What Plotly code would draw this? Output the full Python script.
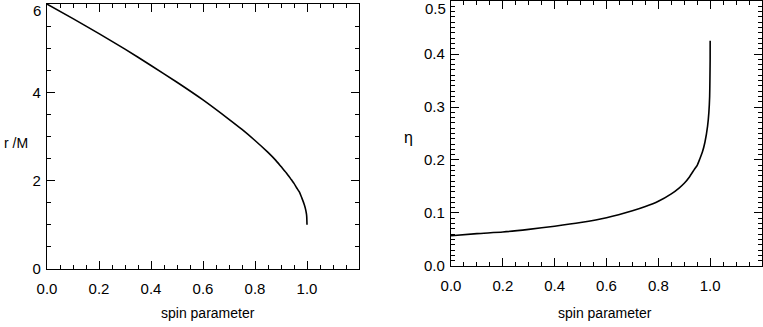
import plotly.graph_objects as go

# ISCO radius vs spin
spin_r = [0.0, 0.1, 0.2, 0.3, 0.4, 0.5, 0.6, 0.7, 0.75, 0.8, 0.85, 0.88, 0.9, 0.92, 0.94, 0.95, 0.96, 0.97, 0.98, 0.99, 0.995, 0.998, 0.999, 1.0]
r_isco = [6.0, 5.67, 5.33, 4.98, 4.61, 4.23, 3.83, 3.39, 3.16, 2.91, 2.64, 2.46, 2.32, 2.18, 2.02, 1.94, 1.84, 1.75, 1.61, 1.45, 1.34, 1.24, 1.18, 1.0]

# efficiency vs spin
spin_eta = [0.0, 0.1, 0.2, 0.3, 0.4, 0.5, 0.6, 0.7, 0.75, 0.8, 0.85, 0.88, 0.9, 0.92, 0.94, 0.95, 0.96, 0.97, 0.98, 0.99, 0.995, 0.998, 0.999, 0.9999, 1.0]
eta = [0.057, 0.061, 0.064, 0.069, 0.075, 0.082, 0.091, 0.104, 0.112, 0.122, 0.136, 0.147, 0.156, 0.168, 0.183, 0.19, 0.202, 0.215, 0.234, 0.264, 0.29, 0.32, 0.35, 0.39, 0.425]

x_ticks = [0.0, 0.2, 0.4, 0.6, 0.8, 1.0]
x_tick_labels = ["0.0", "0.2", "0.4", "0.6", "0.8", "1.0"]
r_ticks = [0, 2, 4, 6]
r_tick_labels = ["0", "2", "4", "6"]
eta_ticks = [0.0, 0.1, 0.2, 0.3, 0.4, 0.5]
eta_tick_labels = ["0.0", "0.1", "0.2", "0.3", "0.4", "0.5"]

W, H = 763, 327
fig = go.Figure()
fig.add_trace(go.Scatter(x=spin_r, y=r_isco, mode="lines", line=dict(color="black", width=1.6, shape="spline", smoothing=0.6),
                         xaxis="x", yaxis="y", showlegend=False, hoverinfo="skip"))
fig.add_trace(go.Scatter(x=spin_eta, y=eta, mode="lines", line=dict(color="black", width=1.6, shape="spline", smoothing=0.6),
                         xaxis="x2", yaxis="y2", showlegend=False, hoverinfo="skip"))

fam = "Liberation Sans, Arial, sans-serif"
tfont = dict(family=fam, size=15, color="black")
font = dict(family=fam, size=14, color="black")
common = dict(showline=True, linecolor="black", linewidth=1.4, mirror="allticks", ticks="inside",
              ticklen=8, tickwidth=1.2, tickcolor="black", showgrid=False, zeroline=False,
              tickfont=tfont, ticklabeloverflow="allow", automargin=False)
minor_x = dict(dtick=0.05, ticklen=4, tickcolor="black", ticks="inside")

# the topmost y label of each panel sits a little below its tick (drawn as annotation)
r_axis_labels = r_tick_labels[:-1] + [""]
eta_axis_labels = eta_tick_labels[:-1] + [""]

fig.update_layout(
    width=W, height=H, margin=dict(l=0, r=0, t=0, b=0, autoexpand=False),
    paper_bgcolor="white", plot_bgcolor="white", font=font,
    xaxis=dict(domain=[47 / W, 359 / W], range=[0, 1.2], tickvals=x_ticks, ticktext=x_tick_labels,
               minor=minor_x, anchor="y", ticklabelstandoff=6, **common),
    yaxis=dict(domain=[1 - 269 / H, 1 - 4 / H], range=[-0.001, 6.002], tickvals=r_ticks,
               ticktext=r_axis_labels,
               minor=dict(dtick=0.5, ticklen=4, tickcolor="black", ticks="inside"), anchor="x",
               ticklabelstandoff=2, **common),
    xaxis2=dict(domain=[451 / W, 762 / W], range=[0, 1.2], tickvals=x_ticks, ticktext=x_tick_labels,
                minor=minor_x, anchor="y2", ticklabelstandoff=6, **common),
    yaxis2=dict(domain=[1 - 266 / H, 1 - 1 / H], range=[-0.0002, 0.5002], tickvals=eta_ticks,
                ticktext=eta_axis_labels,
                minor=dict(dtick=0.01, ticklen=4, tickcolor="black", ticks="inside"), anchor="x2",
                ticklabelstandoff=2, **common),
)

fig.add_annotation(x=43 / W, y=1 - 11 / H, xref="paper", yref="paper", text=r_tick_labels[-1],
                   showarrow=False, font=tfont, xanchor="right", yanchor="middle")
fig.add_annotation(x=448 / W, y=1 - 8 / H, xref="paper", yref="paper", text=eta_tick_labels[-1],
                   showarrow=False, font=tfont, xanchor="right", yanchor="middle")
fig.add_annotation(x=208 / W, y=1 - 313 / H, xref="paper", yref="paper", text="spin parameter",
                   showarrow=False, font=font, xanchor="center", yanchor="middle")
fig.add_annotation(x=605 / W, y=1 - 313 / H, xref="paper", yref="paper", text="spin parameter",
                   showarrow=False, font=font, xanchor="center", yanchor="middle")
fig.add_annotation(x=16 / W, y=1 - 143 / H, xref="paper", yref="paper", text="r /M",
                   showarrow=False, font=font, xanchor="center", yanchor="middle")
fig.add_annotation(x=408 / W, y=1 - 137 / H, xref="paper", yref="paper", text="η",
                   showarrow=False, font=dict(family=fam, size=16, color="black"), xanchor="center", yanchor="middle")

fig.write_html("out.html", config={"displayModeBar": False},
               post_script="document.body.style.margin='0';document.body.style.overflow='hidden';")
